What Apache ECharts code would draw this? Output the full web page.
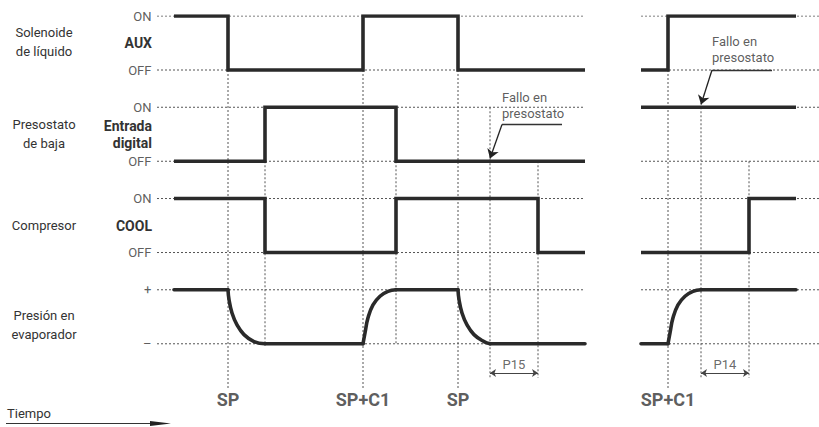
<!DOCTYPE html>
<html>
<head>
<meta charset="utf-8">
<script src="https://cdn.jsdelivr.net/npm/echarts@6/dist/echarts.min.js"></script>
<style>
html,body{margin:0;padding:0;background:#fff;}
#chart{width:819px;height:427px;}
</style>
</head>
<body>
<div id="chart"></div>
<script>
// ---------------- DATA ----------------
const rowTitles = ['Solenoide\nde líquido', 'Presostato\nde baja', 'Compresor', 'Presión en\nevaporador'];
const rowTags = ['AUX', 'Entrada\ndigital', 'COOL', ''];
const levelNames = [['ON', 'OFF'], ['ON', 'OFF'], ['ON', 'OFF'], ['+', '–']];

// Left panel (time units), transitions: [time, state]  (1 = ON / +, 0 = OFF / –)
const leftStart = 8.5, leftEnd = 214, leftAxisMax = 214, leftGridEnd = 213;
const leftSolenoide  = [[8.5, 1], [35.5, 0], [103, 1], [150.5, 0]];
const leftPresostato = [[8.5, 0], [54, 1], [119.5, 0]];
const leftCompresor  = [[8.5, 1], [54, 0], [119.5, 1], [190.5, 0]];
const leftPresionFlat = [
  [[8.5, 1], [35.5, 1]],
  [[54, 0], [103, 0]],
  [[119.5, 1], [150.5, 1]],
  [[166.5, 0], [214, 0]]
];
const leftPresionCurves = [
  [[35.5, 1], [36, 0.82], [37.5, 0.57], [40, 0.35], [43.5, 0.17], [48.5, 0.04], [54, 0]],
  [[103, 0], [104, 0.2], [105.5, 0.48], [108, 0.72], [111.5, 0.88], [115.5, 0.97], [119.5, 1]],
  [[150.5, 1], [151, 0.82], [152.5, 0.57], [155, 0.35], [158.5, 0.17], [163.5, 0.04], [166.5, 0]]
];
const leftMarks = [['SP', 35.5], ['SP+C1', 103], ['SP', 150.5]];
const leftDims = [['P15', 166.5, 190.5]];
// vertical guides: [time, [row, state] start, end ('lbl' | 'dim' | [row, state])]
const leftGuides = [
  [35.5, [0, 0], 'lbl'],
  [54, [1, 0], [3, 0]],
  [103, [0, 0], 'lbl'],
  [119.5, [1, 0], [3, 0]],
  [150.5, [0, 0], 'lbl'],
  [166.5, [1, 1], 'dim'],
  [190.5, [1, 0], 'dim']
];

// Right panel
const rightStart = 0, rightEnd = 77.5, rightAxisMax = 89, rightGridEnd = 89;
const rightSolenoide  = [[0, 0], [13.5, 1]];
const rightPresostato = [[0, 1]];
const rightCompresor  = [[0, 0], [54, 1]];
const rightPresionFlat = [
  [[0, 0], [13.5, 0]],
  [[30, 1], [77.5, 1]]
];
const rightPresionCurves = [
  [[13.5, 0], [14.5, 0.2], [16, 0.48], [18.5, 0.72], [22, 0.88], [26, 0.97], [30, 1]]
];
const rightMarks = [['SP+C1', 13.5]];
const rightDims = [['P14', 30, 54]];
const rightGuides = [
  [13.5, [0, 0], 'lbl'],
  [30, [1, 1], 'dim'],
  [54, [1, 0], 'dim']
];

const noteText = 'Fallo en\npresostato';

// ---------------- LAYOUT ----------------
const rowTops = [0, 1.69, 3.38, 5.07];
const yLabel = 7.11, yGuideLbl = 6.89, yGuideDim = 6.70, yDim = 6.61, yDimText = 6.46;
const levelY = (r, s) => rowTops[r] + (1 - s);

const INK = '#2a2a2a', TXT = '#333', GUIDE = '#555';
const FONT = 'Roboto, "Noto Sans", sans-serif';

function stepPoints(trans, end, row) {
  const pts = [];
  trans.forEach((p, i) => {
    if (i > 0) pts.push([p[0], levelY(row, trans[i - 1][1])]);
    pts.push([p[0], levelY(row, p[1])]);
  });
  pts.push([end, levelY(row, trans[trans.length - 1][1])]);
  return pts;
}
const mapRow = (pts, row) => pts.map(p => [p[0], levelY(row, p[1])]);

const series = [];
function lineS(grid, data, style, extra) {
  series.push(Object.assign({
    type: 'line', xAxisIndex: grid, yAxisIndex: grid, data: data,
    symbol: 'none', silent: true, animation: false,
    lineStyle: style
  }, extra || {}));
}
const dashStyle = { color: GUIDE, width: 1, type: [2, 2] };
const sigStyle = { color: INK, width: 3.6, join: 'miter', cap: 'butt' };
const curveStyle = { color: INK, width: 3.6, join: 'round', cap: 'round' };

function buildPanel(g, P) {
  // horizontal level guides
  for (let r = 0; r < 4; r++) {
    [1, 0].forEach(s => lineS(g, [[0, levelY(r, s)], [P.gridEnd, levelY(r, s)]], dashStyle, { z: 1 }));
  }
  // vertical guides
  P.guides.forEach(gd => {
    const y0 = levelY(gd[1][0], gd[1][1]);
    const y1 = gd[2] === 'lbl' ? yGuideLbl : gd[2] === 'dim' ? yGuideDim : levelY(gd[2][0], gd[2][1]);
    lineS(g, [[gd[0], y0], [gd[0], y1]], dashStyle, { z: 1 });
  });
  // digital signals
  [P.sol, P.pres, P.comp].forEach((tr, r) => lineS(g, stepPoints(tr, P.end, r), sigStyle, { z: 5 }));
  // pressure
  P.flat.forEach(seg => lineS(g, mapRow(seg, 3), curveStyle, { z: 5 }));
  P.curves.forEach(seg => lineS(g, mapRow(seg, 3), curveStyle, { z: 5, smooth: 0.45 }));
  // dimension arrows
  series.push({
    type: 'lines', coordinateSystem: 'cartesian2d', xAxisIndex: g, yAxisIndex: g,
    silent: true, animation: false, z: 6,
    symbol: ['arrow', 'arrow'], symbolSize: 6,
    lineStyle: { color: '#444', width: 1, opacity: 1, curveness: 0 },
    data: P.dims.map(d => ({ coords: [[d[1], yDim], [d[2], yDim]] }))
  });
  // note leader
  series.push({
    type: 'lines', coordinateSystem: 'cartesian2d', xAxisIndex: g, yAxisIndex: g,
    silent: true, animation: false, z: 6,
    symbol: 'none',
    lineStyle: { color: '#333', width: 1.3, opacity: 1, curveness: 0 },
    data: [{ coords: [P.note.elbow, P.note.end] }]
  });
  series.push({
    type: 'lines', coordinateSystem: 'cartesian2d', xAxisIndex: g, yAxisIndex: g,
    silent: true, animation: false, z: 6,
    symbol: ['none', 'arrow'], symbolSize: 9,
    lineStyle: { color: '#222', width: 1.3, opacity: 1, curveness: 0 },
    data: [{ coords: [P.note.elbow, P.note.tip] }]
  });
  // text labels (marks, dims, note)
  const txt = [];
  P.marks.forEach(m => txt.push({ value: [m[1], yLabel], name: m[0],
    label: { fontSize: 18, fontWeight: 'bold', color: TXT } }));
  P.dims.forEach(d => txt.push({ value: [(d[1] + d[2]) / 2, yDimText], name: d[0],
    label: { fontSize: 13, color: '#444' } }));
  txt.push({ value: P.note.text, name: noteText,
    label: { fontSize: 13, color: TXT, align: 'left', lineHeight: 16 } });
  if (P.levelLabels) {
    for (let r = 0; r < 4; r++) {
      [1, 0].forEach((s, k) => txt.push({ value: [0, levelY(r, s)], name: levelNames[r][k],
        label: { position: 'left', distance: 5, fontSize: 13, color: TXT } }));
    }
  }
  series.push({
    type: 'scatter', xAxisIndex: g, yAxisIndex: g, silent: true, animation: false, z: 7,
    symbolSize: 1, itemStyle: { color: 'rgba(0,0,0,0)' },
    label: { show: true, position: 'inside', formatter: '{b}', fontFamily: FONT, verticalAlign: 'middle' },
    data: txt
  });
}

buildPanel(0, {
  sol: leftSolenoide, pres: leftPresostato, comp: leftCompresor,
  flat: leftPresionFlat, curves: leftPresionCurves, end: leftEnd, gridEnd: leftGridEnd,
  guides: leftGuides, marks: leftMarks, dims: leftDims, levelLabels: true,
  note: { elbow: [172.5, 2.01], end: [202.5, 2.01], tip: [166.5, 2.64], text: [172.5, 1.65] }
});
buildPanel(1, {
  sol: rightSolenoide, pres: rightPresostato, comp: rightCompresor,
  flat: rightPresionFlat, curves: rightPresionCurves, end: rightEnd, gridEnd: rightGridEnd,
  guides: rightGuides, marks: rightMarks, dims: rightDims, levelLabels: false,
  note: { elbow: [35.5, 1.0], end: [65.5, 1.0], tip: [30, 1.64], text: [35.5, 0.62] }
});

// graphic texts (row titles, tags, time arrow)
const graphic = [];
const titleY = [41.5, 133.5, 225, 325];
const tagY = [43, 134.5, 226, 0];
rowTitles.forEach((t, i) => graphic.push({
  type: 'text', x: 44, y: titleY[i], silent: true,
  style: { text: t, fill: TXT, font: '13px ' + FONT, textAlign: 'center', textVerticalAlign: 'middle', lineHeight: 19 }
}));
rowTags.forEach((t, i) => { if (t) graphic.push({
  type: 'text', x: 152, y: tagY[i], silent: true,
  style: { text: t, fill: TXT, font: 'bold 14px ' + FONT, textAlign: 'right', textVerticalAlign: 'middle', lineHeight: 17 }
}); });
graphic.push({ type: 'text', x: 7, y: 413, silent: true,
  style: { text: 'Tiempo', fill: TXT, font: '13px ' + FONT, textAlign: 'left', textVerticalAlign: 'middle' } });
graphic.push({ type: 'line', silent: true, shape: { x1: 6, y1: 423.5, x2: 158, y2: 423.5 },
  style: { stroke: '#333', lineWidth: 1.2 } });
graphic.push({ type: 'polygon', silent: true, shape: { points: [[150, 421], [171, 423.5], [150, 426]] },
  style: { fill: '#222' } });

const chart = echarts.init(document.getElementById('chart'), null, { renderer: 'svg' });
chart.setOption({
  backgroundColor: '#fff',
  animation: false,
  grid: [
    { left: 157, top: 16, width: 428, height: 405 },
    { left: 641, top: 16, width: 178, height: 405 }
  ],
  xAxis: [
    { type: 'value', gridIndex: 0, min: 0, max: leftAxisMax, show: false },
    { type: 'value', gridIndex: 1, min: 0, max: rightAxisMax, show: false }
  ],
  yAxis: [
    { type: 'value', gridIndex: 0, min: 0, max: 7.5, inverse: true, show: false },
    { type: 'value', gridIndex: 1, min: 0, max: 7.5, inverse: true, show: false }
  ],
  graphic: graphic,
  series: series
});
</script>
</body>
</html>
